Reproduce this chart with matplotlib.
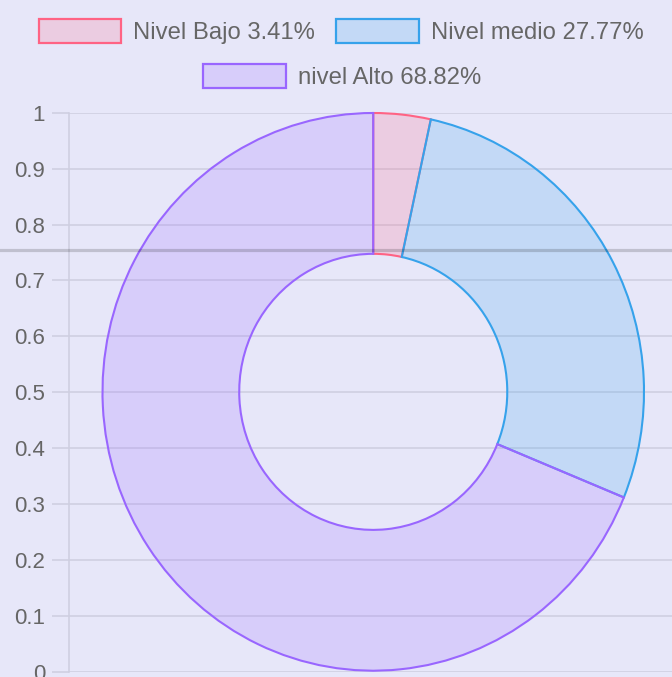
import matplotlib
matplotlib.use("Agg")
import matplotlib.pyplot as plt
from matplotlib.patches import Patch

plt.rcParams['font.family'] = ['Liberation Sans', 'DejaVu Sans']

# data
labels = ['Nivel Bajo 3.41%', 'Nivel medio 27.77%', 'nivel Alto 68.82%']
values = [3.41, 27.77, 68.82]
border_colors = ['#ff6384', '#36a2eb', '#9966ff']
y_ticks = [0, 0.1, 0.2, 0.3, 0.4, 0.5, 0.6, 0.7, 0.8, 0.9, 1]
y_tick_labels = ['0', '0.1', '0.2', '0.3', '0.4', '0.5', '0.6', '0.7', '0.8', '0.9', '1']

W, H = 672, 677
bg = '#e7e7f9'
grid_c = '#cfcfe1'
text_c = '#666666'

fig = plt.figure(figsize=(W / 100, H / 100), dpi=100, facecolor=bg)

# --- background scale (y axis 0..1) ---
y0_px, y1_px = 672.0, 112.7
ax = fig.add_axes([69 / W, (H - y0_px) / H, (W - 69) / W, (y0_px - y1_px) / H])
ax.set_facecolor(bg)
ax.set_ylim(0, 1)
ax.set_xlim(0, 1)
ax.set_yticks(y_ticks)
ax.set_yticklabels(y_tick_labels)
ax.set_xticks([])
ax.grid(axis='y', color=grid_c, linewidth=1.2)
ax.tick_params(axis='y', length=12.2, width=1.2, color=grid_c, pad=5,
               labelsize=16, labelcolor=text_c)
for s in ['top', 'right', 'bottom']:
    ax.spines[s].set_visible(False)
ax.spines['left'].set_color(grid_c)
ax.spines['left'].set_linewidth(1.2)
ax.set_axisbelow(True)

# --- doughnut ---
pax = fig.add_axes([102.5 / W, (H - 670.7) / H, 541.5 / W, 557.7 / H])
pax.patch.set_alpha(0)
face_colors = [matplotlib.colors.to_rgba(c, 0.2) for c in border_colors]
wedges, _ = pax.pie(values, colors=face_colors, startangle=90, counterclock=False,
                    radius=1, wedgeprops=dict(width=0.505, linewidth=1.5))
for w, c in zip(wedges, border_colors):
    w.set_edgecolor(c)
pax.set_xlim(-1, 1)
pax.set_ylim(-1, 1)
pax.set_aspect('auto')
pax.axis('off')

# --- grey line across the chart ---
oax = fig.add_axes([0, (H - y0_px) / H, 1, (y0_px - y1_px) / H])
oax.patch.set_alpha(0)
oax.set_ylim(0, 1)
oax.axis('off')
oax.axhline(0.7546, color=(0, 0, 0, 0.17), linewidth=2.3)

# --- legend ---
handles = [Patch(facecolor=fc, edgecolor=ec, linewidth=1.6, label=l)
           for fc, ec, l in zip(face_colors, border_colors, labels)]
leg_kw = dict(frameon=False, fontsize=17.2, handlelength=3.45, handleheight=1.2,
              handletextpad=0.5, columnspacing=0.9, borderpad=0, borderaxespad=0,
              labelcolor=text_c, loc='center')
leg1 = fig.legend(handles[:2], labels[:2], ncol=2,
                  bbox_to_anchor=(341 / W, 1 - 31.5 / H), **leg_kw)
leg2 = fig.legend(handles[2:], labels[2:], ncol=1,
                  bbox_to_anchor=(342 / W, 1 - 76.5 / H), **leg_kw)

fig.savefig('out.png', dpi=100, facecolor=bg)
